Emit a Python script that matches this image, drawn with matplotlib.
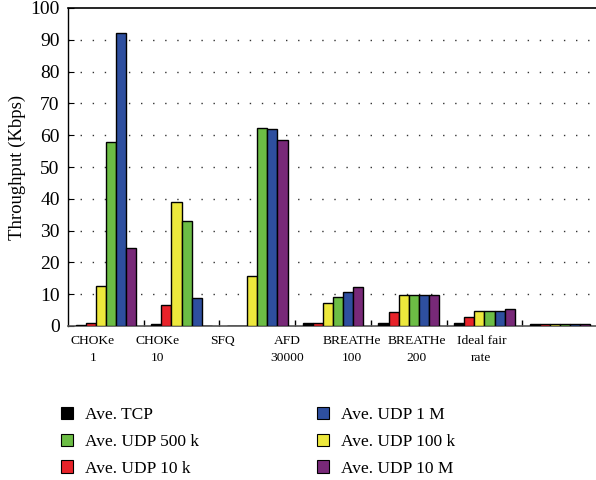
import numpy as np
import matplotlib.pyplot as plt
from matplotlib.patches import Patch

plt.rcParams['font.family'] = ['Liberation Serif', 'DejaVu Serif']

# Datos
categorias = ['CHOKe\n1', 'CHOKe\n10', 'SFQ', 'AFD\n30000', 'BREATHe\n100', 'BREATHe\n200', 'Ideal fair\nrate']
series = ['Ave. TCP', 'Ave. UDP 10 k', 'Ave. UDP 100 k', 'Ave. UDP 500 k', 'Ave. UDP 1 M', 'Ave. UDP 10 M']
tcp = [0.3, 0.6, 0.0, 0.8, 0.8, 0.8, 0.7]
udp_10k = [0.8, 6.6, 0.0, 0.8, 4.5, 2.7, 0.7]
udp_100k = [12.6, 39.1, 15.8, 7.3, 9.8, 4.8, 0.7]
udp_500k = [57.8, 33.0, 62.4, 9.0, 9.8, 4.8, 0.7]
udp_1m = [92.0, 8.9, 61.8, 10.6, 9.8, 4.8, 0.7]
udp_10m = [24.4, 0.0, 58.6, 12.3, 9.8, 5.2, 0.7]
valores = [tcp, udp_10k, udp_100k, udp_500k, udp_1m, udp_10m]
colores = ['#000000', '#e8232a', '#ede83c', '#6cbd45', '#2e4f9f', '#782978']

fig = plt.figure(figsize=(5.96, 4.8), dpi=100)
ax = fig.add_axes([68/596, 1 - 326/480, 530/596, 318/480])

x = np.arange(len(categorias))
ancho = 0.8 / len(series)
for k, (vals, col) in enumerate(zip(valores, colores)):
    pos = x - 0.4 + ancho * (k + 0.5)
    ax.bar(pos, vals, width=ancho, color=col, edgecolor='black', linewidth=1.0, zorder=3)

ax.set_xlim(-0.5, len(categorias) - 0.5)
ax.set_ylim(0, 100)
ax.set_yticks(np.arange(0, 101, 10))
ax.tick_params(axis='y', direction='in', length=4, labelsize=14, pad=6)
ax.set_ylabel('Throughput (Kbps)', fontsize=13.5, labelpad=3)

# separadores de grupo (ticks pequenos) y etiquetas desplazadas como en el original
ax.set_xticks(np.arange(0.5, len(categorias) - 0.5, 1), minor=True)
ax.tick_params(axis='x', which='minor', direction='in', length=4, width=1)
ax.set_xticks(x * 0.855 - 0.17)
ax.set_xticklabels(categorias, fontsize=9.7, linespacing=1.5)
ax.tick_params(axis='x', which='major', length=0, pad=6.5)

for yv in range(10, 100, 10):
    ax.axhline(yv, color='#333333', linewidth=1.0, linestyle=(0, (1.0, 7.7)), zorder=1)

ax.spines['right'].set_visible(False)
ax.spines['top'].set_linewidth(1.2)
ax.spines['left'].set_linewidth(1.0)
ax.spines['bottom'].set_color('#555555')
ax.spines['bottom'].set_linewidth(1.2)

handles = [Patch(facecolor=c, edgecolor='black', linewidth=0.8) for c in colores]
orden = [0, 3, 1, 4, 2, 5]
fig.legend([handles[i] for i in orden], [series[i] for i in orden], ncol=2,
           loc='upper left', bbox_to_anchor=(45/596, 1 - 391/480), frameon=False,
           fontsize=12.5, handlelength=0.7, handleheight=0.7, handletextpad=0.7,
           columnspacing=6.8, labelspacing=0.62)

fig.savefig('out.png', dpi=100)
